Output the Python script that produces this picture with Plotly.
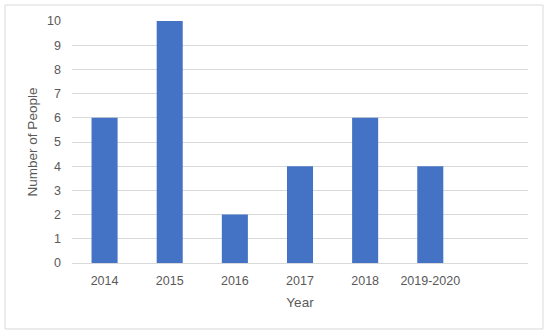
import plotly.graph_objects as go

categories = ["2014", "2015", "2016", "2017", "2018", "2019-2020", " "]
values = [6, 10, 2, 4, 6, 4, None]
y_ticks = [0, 1, 2, 3, 4, 5, 6, 7, 8, 9, 10]

font_color = "#595959"
fig = go.Figure(go.Bar(x=categories, y=values, marker=dict(color="#4472C4", line=dict(width=0))))

fig.update_layout(
    width=550, height=335,
    margin=dict(l=72, r=22, t=21, b=72),
    paper_bgcolor="white", plot_bgcolor="white",
    bargap=0.6, showlegend=False,
    font=dict(family="Liberation Sans, Arial, sans-serif", size=12, color=font_color),
    shapes=[dict(type="rect", xref="paper", yref="paper",
                 x0=-0.1469, x1=1.0329, y0=-0.2727, y1=1.0661,
                 line=dict(color="#D9D9D9", width=1), fillcolor="rgba(0,0,0,0)", layer="below")],
)
fig.update_xaxes(
    type="category", range=[-0.5, 6.5], showgrid=False,
    showline=True, linecolor="#D9D9D9", linewidth=1, ticks="",
    ticklabelstandoff=6,
    title=dict(text="Year", font=dict(size=13.5, color=font_color), standoff=10),
    tickfont=dict(size=12.5, color=font_color),
)
fig.update_yaxes(
    range=[0, 10], tickvals=y_ticks, showgrid=True, gridcolor="#D9D9D9", gridwidth=1,
    zeroline=False, showline=False, ticks="", ticklabelstandoff=10,
    title=dict(text="Number of People", font=dict(size=13.5, color=font_color), standoff=6),
    tickfont=dict(size=12.5, color=font_color),
)
fig.write_html("out.html", config={"displayModeBar": False},
               post_script="document.body.style.margin='0';document.body.style.padding='0';")
